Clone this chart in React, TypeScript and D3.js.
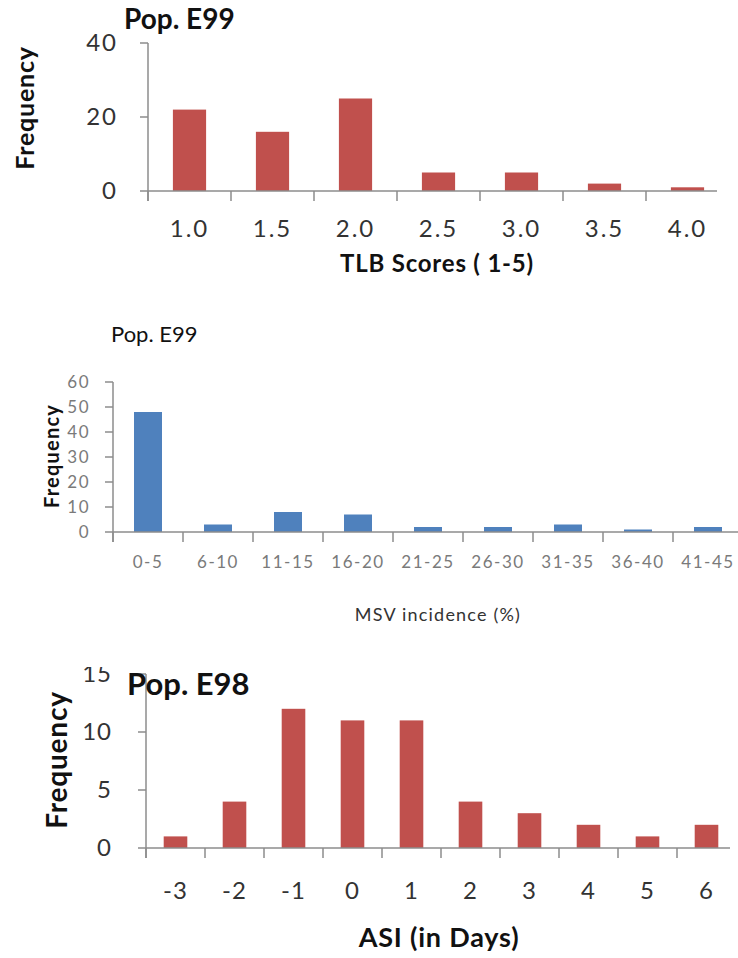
import React from 'react';
import * as d3 from 'd3';

// TLB scores, Pop. E99
const tlbScores = ['1.0', '1.5', '2.0', '2.5', '3.0', '3.5', '4.0'];
const tlbFreq = [22, 16, 25, 5, 5, 2, 1];
const tlbTicks = [0, 20, 40];

// MSV incidence, Pop. E99
const msvBins = ['0-5', '6-10', '11-15', '16-20', '21-25', '26-30', '31-35', '36-40', '41-45'];
const msvFreq = [48, 3, 8, 7, 2, 2, 3, 1, 2];
const msvTicks = [0, 10, 20, 30, 40, 50, 60];

// ASI, Pop. E98
const asiDays = ['-3', '-2', '-1', '0', '1', '2', '3', '4', '5', '6'];
const asiFreq = [1, 4, 12, 11, 11, 4, 3, 2, 1, 2];
const asiTicks = [0, 5, 10, 15];

const FONT = 'Lato, "Liberation Sans", sans-serif';

type PanelProps = {
    id: string;
    cats: string[];
    values: number[];
    ticks: number[];
    x0: number; x1: number; axisEnd: number;
    yTop: number; yBottom: number;
    color: string;
    tickFont: number; tickColor: string; tickSpacing: number; xLabelY: number; yLabelGap: number;
    title: string; titleX: number; titleY: number; titleSize: number; titleWeight: string;
    yLabel: string; yLabelX: number; yLabelY: number; yLabelSize: number; yLabelWeight: string;
    xLabel: string; xLabelX: number; xLabelBase: number; xLabelSize: number; xLabelWeight: string; xLabelColor: string;
    labelSpacing: number;
    clipTop?: number;
};

function BarPanel(p: PanelProps) {
    const x = d3.scaleBand<string>()
        .domain(p.cats)
        .range([p.x0, p.x1])
        .paddingInner(0.6)
        .paddingOuter(0.3);
    const yMax = d3.max(p.ticks) as number;
    const y = d3.scaleLinear()
        .domain([0, yMax])
        .range([p.yBottom, p.yTop]);
    const step = x.step();
    const bounds = d3.range(p.cats.length).map(i => p.x0 + i * step);
    const axisColor = '#8c8c8c';

    const body = (
        <g>
            {p.values.map((v, i) => (
                <rect key={i} x={x(p.cats[i])} y={y(v)} width={x.bandwidth()}
                      height={y(0) - y(v)} fill={p.color}/>
            ))}
            {/* y axis */}
            <line x1={p.x0} x2={p.x0} y1={y(yMax)} y2={y(0) + 10}
                  stroke={axisColor} strokeWidth={1.5}/>
            {p.ticks.map(t => (
                <g key={t}>
                    <line x1={p.x0 - 8} x2={p.x0} y1={y(t)} y2={y(t)} stroke={axisColor} strokeWidth={1.5}/>
                    <text x={p.x0 - p.yLabelGap} y={y(t)} dy="0.35em" textAnchor="end"
                          fontSize={p.tickFont} fill={p.tickColor} fontFamily={FONT}
                          letterSpacing={p.tickSpacing}>{t}</text>
                </g>
            ))}
            {/* x axis */}
            <line x1={p.x0} x2={p.axisEnd} y1={y(0)} y2={y(0)} stroke={axisColor} strokeWidth={1.5}/>
            {bounds.map((b, i) => (
                <line key={i} x1={b} x2={b} y1={y(0)} y2={y(0) + 10} stroke={axisColor} strokeWidth={1.5}/>
            ))}
            {p.cats.map(c => (
                <text key={c} x={(x(c) as number) + x.bandwidth() / 2} y={p.xLabelY} dy="0.35em"
                      textAnchor="middle" fontSize={p.tickFont} fill={p.tickColor}
                      fontFamily={FONT} letterSpacing={p.tickSpacing}>{c}</text>
            ))}
        </g>
    );

    return (
        <g>
            {p.clipTop !== undefined && (
                <defs>
                    <clipPath id={p.id + '-clip'}>
                        <rect x={0} y={p.clipTop} width={738} height={958 - p.clipTop}/>
                    </clipPath>
                </defs>
            )}
            <g clipPath={p.clipTop !== undefined ? `url(#${p.id}-clip)` : undefined}>
                {body}
            </g>
            <text x={p.titleX} y={p.titleY} fontSize={p.titleSize} fontWeight={p.titleWeight}
                  fill="#111" fontFamily={FONT}>{p.title}</text>
            <text transform={`translate(${p.yLabelX},${p.yLabelY}) rotate(-90)`} textAnchor="middle"
                  dy="0.35em" fontSize={p.yLabelSize} fontWeight={p.yLabelWeight} fill="#111"
                  fontFamily={FONT} letterSpacing={p.labelSpacing}>{p.yLabel}</text>
            <text x={p.xLabelX} y={p.xLabelBase} textAnchor="middle" dy="0.35em" fontSize={p.xLabelSize}
                  fontWeight={p.xLabelWeight} fill={p.xLabelColor} fontFamily={FONT}
                  letterSpacing={p.labelSpacing}>{p.xLabel}</text>
        </g>
    );
}

export default function App() {
    return (
        <svg width={738} height={958} style={{ position: 'absolute', left: 0, top: 0, background: '#fff' }}>
            <BarPanel id="tlb" cats={tlbScores} values={tlbFreq} ticks={tlbTicks}
                      x0={148} x1={729} axisEnd={717} yTop={43} yBottom={191}
                      color="#c0504d" tickFont={24} tickColor="#333" tickSpacing={2} xLabelY={229} yLabelGap={30}
                      title="Pop. E99" titleX={124} titleY={29} titleSize={28} titleWeight="bold"
                      yLabel="Frequency" yLabelX={25} yLabelY={108} yLabelSize={25} yLabelWeight="bold"
                      xLabel="TLB Scores ( 1-5)" xLabelX={437} xLabelBase={264} xLabelSize={24}
                      xLabelWeight="bold" xLabelColor="#111" labelSpacing={0.8}/>
            <BarPanel id="msv" cats={msvBins} values={msvFreq} ticks={msvTicks}
                      x0={113} x1={743} axisEnd={740} yTop={382} yBottom={532}
                      color="#4f81bd" tickFont={17} tickColor="#7a7a7a" tickSpacing={1.5} xLabelY={562} yLabelGap={23}
                      title="Pop. E99" titleX={111} titleY={342} titleSize={22} titleWeight="normal"
                      yLabel="Frequency" yLabelX={52} yLabelY={456} yLabelSize={20} yLabelWeight="bold"
                      xLabel="MSV incidence (%)" xLabelX={438} xLabelBase={615} xLabelSize={18}
                      xLabelWeight="normal" xLabelColor="#333" labelSpacing={1.2}/>
            <BarPanel id="asi" cats={asiDays} values={asiFreq} ticks={asiTicks}
                      x0={146} x1={736} axisEnd={730} yTop={674} yBottom={848}
                      color="#c0504d" tickFont={24} tickColor="#333" tickSpacing={1} xLabelY={891} yLabelGap={34}
                      title="Pop. E98" titleX={127} titleY={695} titleSize={31} titleWeight="bold"
                      yLabel="Frequency" yLabelX={57} yLabelY={760} yLabelSize={28} yLabelWeight="bold"
                      xLabel="ASI (in Days)" xLabelX={439} xLabelBase={938} xLabelSize={27}
                      xLabelWeight="bold" xLabelColor="#111" labelSpacing={0.8} clipTop={667}/>
        </svg>
    );
}
